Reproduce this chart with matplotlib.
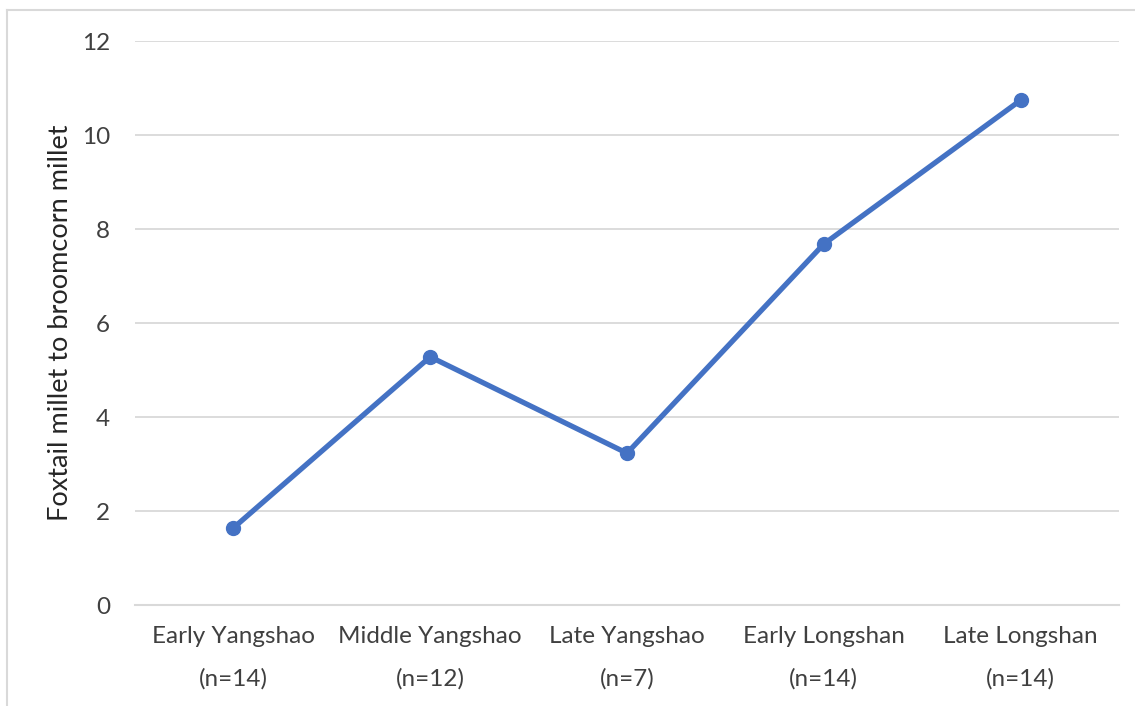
import matplotlib.pyplot as plt
from matplotlib.lines import Line2D

plt.rcParams['font.family'] = ['Lato', 'DejaVu Sans']

# Ratio of foxtail to broomcorn millet per period
periods = ['Early Yangshao', 'Middle Yangshao', 'Late Yangshao', 'Early Longshan', 'Late Longshan']
sample_sizes = [14, 12, 7, 14, 14]
ratios = [1.64, 5.28, 3.23, 7.68, 10.74]

labels = [f'{p}\n(n={n})' for p, n in zip(periods, sample_sizes)]

fig = plt.figure(figsize=(11.35, 7.06), dpi=100)
ax = fig.add_axes([135 / 1135, 1 - 605 / 706, (1119 - 135) / 1135, (605 - 41) / 706])

x = range(len(periods))
ax.plot(x, ratios, color='#4472C4', linewidth=3.8, marker='o', markersize=10,
        solid_capstyle='round', zorder=3)

ax.set_xlim(-0.5, len(periods) - 0.5)
ax.set_ylim(0, 12)
ax.set_yticks(range(0, 13, 2))
ax.set_xticks(list(x))
ax.set_xticklabels(labels, linespacing=2.2)

ax.grid(axis='y', color='#d9d9d9', linewidth=1.3)
ax.set_axisbelow(True)
for side in ['left', 'right', 'top']:
    ax.spines[side].set_visible(False)
ax.spines['bottom'].set_color('#d9d9d9')
ax.spines['bottom'].set_linewidth(1.5)
ax.tick_params(axis='both', length=0, labelsize=17.5, colors='#404040')
ax.tick_params(axis='y', pad=18)
ax.tick_params(axis='x', pad=15)

ax.set_ylabel('Foxtail millet to broomcorn millet', fontsize=19.5, color='#262626', labelpad=6)

# light frame along the left and top edges
fig.add_artist(Line2D([7 / 1135, 7 / 1135], [0, 1 - 10 / 706], transform=fig.transFigure,
                      color='#d9d9d9', linewidth=1.5))
fig.add_artist(Line2D([7 / 1135, 1], [1 - 10 / 706, 1 - 10 / 706], transform=fig.transFigure,
                      color='#d9d9d9', linewidth=1.5))

fig.savefig('out.png', dpi=100)
